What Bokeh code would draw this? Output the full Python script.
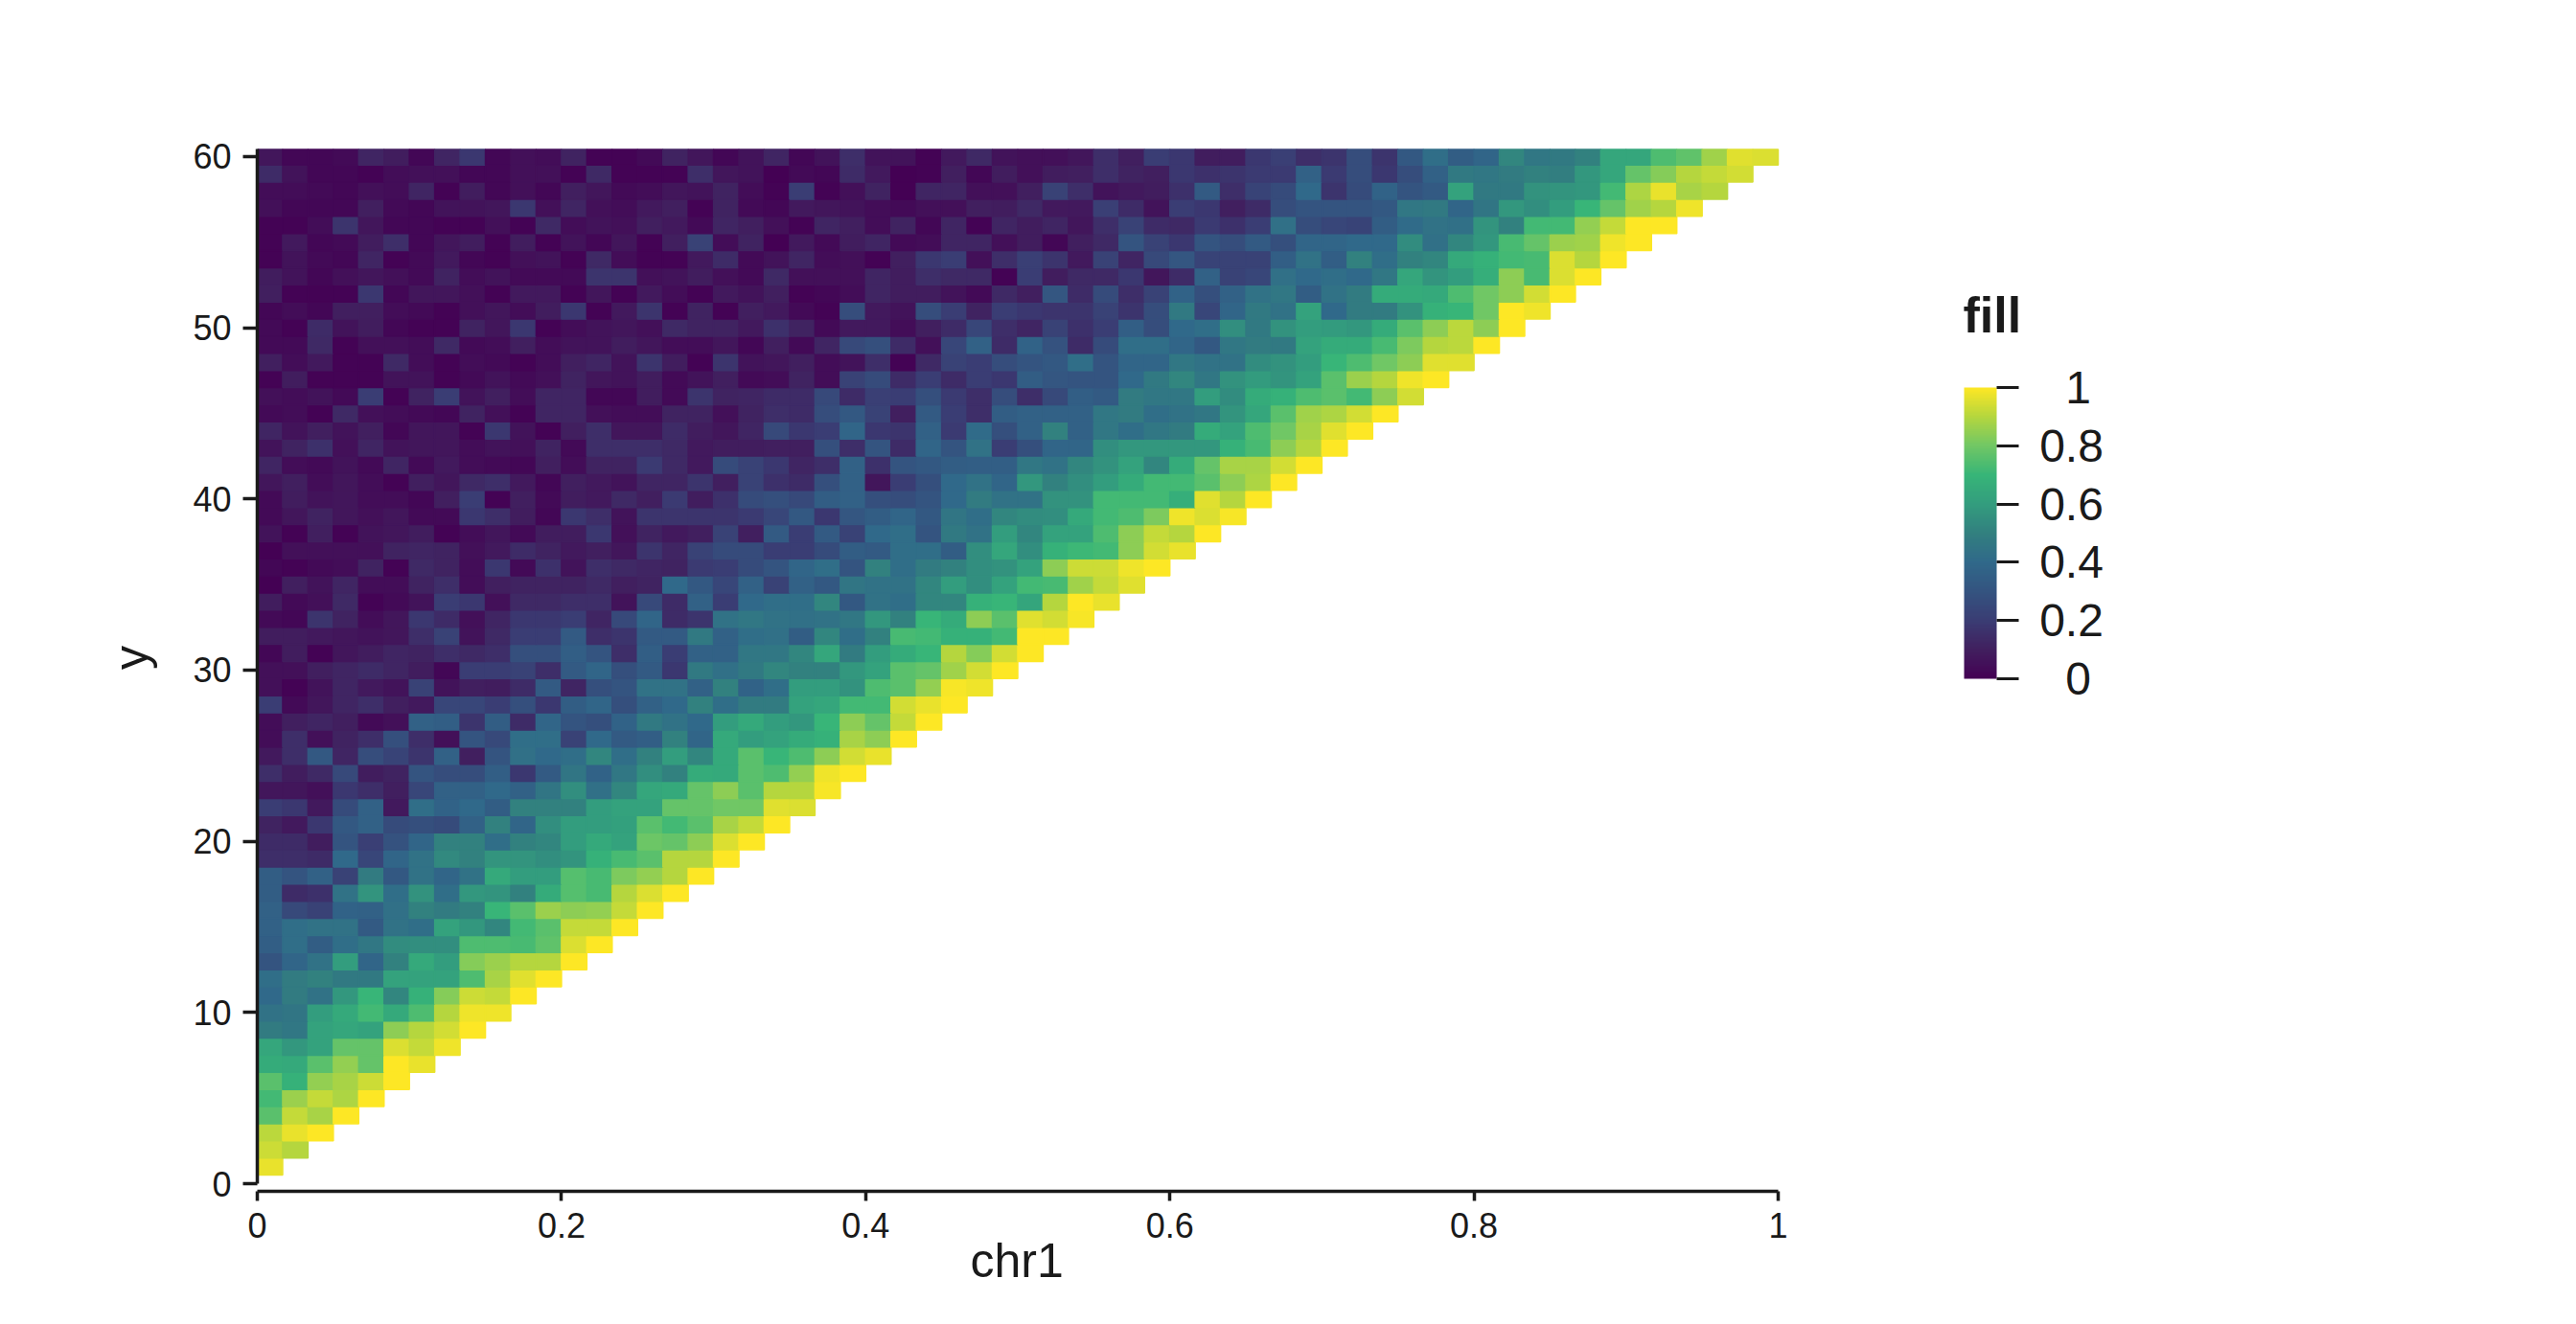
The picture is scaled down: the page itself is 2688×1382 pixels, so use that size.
from bokeh.plotting import figure
from bokeh.models import ColumnDataSource, LinearColorMapper, ColorBar, FixedTicker, Range1d, Label, Title
from bokeh.transform import transform
from bokeh.embed import file_html
from bokeh.resources import INLINE
import numpy as np

# fill values in percent, one list per row of the heatmap, from x = 0 rightwards
y1 = [97]
y2 = [93,90]
y3 = [91,97,100]
y4 = [76,92,88,100]
y5 = [72,86,92,89,100]
y6 = [76,68,85,88,93,100]
y7 = [66,65,76,85,78,100,97]
y8 = [64,58,62,78,78,95,92,98]
y9 = [48,46,62,64,62,84,90,94,100]
y10 = [44,45,60,65,72,65,74,90,98,98]
y11 = [40,48,44,58,70,52,68,83,93,92,100]
y12 = [42,48,50,47,47,62,62,62,74,88,96,100]
y13 = [30,38,44,60,38,50,65,60,83,86,90,90,100]
y14 = [35,42,34,42,46,54,55,55,74,74,73,77,95,100]
y15 = [36,42,44,44,33,44,42,62,58,52,72,76,92,92,100]
y16 = [36,25,22,37,36,43,50,48,50,70,76,86,84,85,92,100]
y17 = [34,14,16,44,57,42,56,42,58,57,50,66,75,73,90,95,100]
y18 = [34,30,36,22,48,32,44,38,44,65,60,60,75,73,82,85,90,100]
y19 = [15,15,14,40,24,38,44,53,50,57,57,55,57,68,73,76,90,90,100]
y20 = [14,14,9,30,21,29,38,50,50,42,50,52,60,65,62,79,78,84,95,100]
y21 = [11,8,18,32,36,26,28,26,36,50,38,55,60,60,61,76,72,76,88,92,100]
y22 = [20,18,8,26,36,8,42,37,40,34,50,50,50,60,62,62,78,78,80,80,96,95]
y23 = [7,7,5,18,15,10,24,36,36,40,36,45,55,43,52,64,65,78,84,76,90,90,99]
y24 = [15,9,13,25,9,11,30,27,27,35,18,33,45,37,46,55,50,66,65,76,74,85,98,100]
y25 = [8,15,32,12,27,23,17,36,10,30,43,40,42,52,42,50,60,52,65,76,70,74,84,94,97]
y26 = [4,15,5,11,15,28,15,5,30,25,42,42,22,40,33,35,50,38,65,60,62,66,68,88,84,100]
y27 = [4,10,12,10,3,5,36,35,17,34,14,38,30,28,37,47,44,40,60,65,60,58,70,84,78,92,100]
y28 = [20,3,7,12,15,10,8,24,24,20,28,18,34,38,28,36,40,50,42,48,48,62,64,72,72,94,97,100]
y29 = [5,1,6,12,8,6,22,6,10,9,14,33,12,28,30,44,44,36,50,37,42,60,60,56,74,76,85,99,98]
y30 = [5,5,10,12,14,12,9,2,20,20,22,15,33,38,28,33,18,47,43,47,52,50,50,58,62,76,78,87,94,100]
y31 = [2,9,1,7,9,12,11,15,13,15,28,28,35,30,15,35,20,36,36,46,46,52,64,48,60,66,70,90,83,94,100]
y32 = [9,9,8,7,6,7,15,22,6,13,20,20,33,15,17,33,33,47,36,42,43,34,52,42,50,73,72,68,68,72,100,100]
y33 = [3,2,17,11,4,7,18,14,5,12,18,18,20,12,25,38,14,17,44,46,44,43,44,46,58,50,70,66,84,76,96,94,99]
y34 = [9,3,5,13,1,3,6,20,18,5,13,13,15,15,6,25,14,36,20,40,42,42,52,32,44,42,52,52,68,70,63,90,100,97]
y35 = [0,10,6,12,4,4,11,15,4,10,11,11,11,13,10,11,40,32,24,36,22,36,32,45,44,44,52,60,55,62,72,73,87,92,96]
y36 = [2,1,3,4,11,1,13,11,4,18,3,16,6,15,13,12,11,19,20,26,30,38,42,30,50,42,48,50,55,56,62,84,93,93,98,100]
y37 = [0,5,5,5,5,11,12,11,5,8,14,11,8,10,7,17,12,22,26,26,20,20,26,34,33,42,42,34,55,64,55,68,71,72,84,94,97]
y38 = [6,1,10,1,6,7,9,1,4,7,3,9,9,18,5,11,8,10,22,10,33,20,33,22,40,42,30,47,44,60,52,62,62,74,84,92,90,100]
y39 = [3,7,11,7,5,7,3,3,18,15,9,2,18,15,6,17,17,17,17,19,24,32,18,31,34,38,32,45,42,52,54,55,65,72,74,82,98,95,99]
y40 = [3,9,6,7,4,4,2,10,20,1,10,3,9,8,13,10,19,9,16,26,28,25,34,36,28,27,30,40,48,44,44,56,56,72,72,72,67,96,90,100]
y41 = [7,10,4,7,4,1,10,7,13,15,8,2,10,8,6,12,12,17,10,22,16,14,28,36,7,20,28,40,44,38,58,50,55,60,66,72,72,76,84,89,100]
y42 = [12,4,3,6,3,12,3,8,4,3,2,10,4,11,11,19,13,8,26,22,18,12,15,36,16,30,32,34,35,35,46,44,52,56,62,52,66,78,88,88,94,100]
y43 = [6,11,16,5,12,6,7,7,4,6,5,11,3,15,15,15,13,8,9,9,10,10,28,15,30,14,38,30,44,20,28,38,38,55,58,58,58,58,68,73,84,90,100]
y44 = [12,6,10,6,10,2,7,7,1,18,6,1,10,15,7,7,14,9,7,12,25,18,20,38,18,17,36,19,41,28,36,50,36,46,42,46,48,66,62,74,80,88,96,100]
y45 = [3,4,1,13,5,4,3,2,11,5,1,12,12,5,4,4,11,11,5,11,15,14,27,32,22,10,33,20,15,34,36,36,36,46,48,42,44,46,57,64,76,87,89,94,100]
y46 = [5,4,6,3,20,1,11,20,6,10,4,12,12,2,2,9,3,17,11,12,14,14,25,14,21,20,28,19,15,27,15,25,35,33,48,46,46,60,54,66,68,74,76,72,84,94]
y47 = [1,9,1,1,1,6,6,1,3,6,3,5,11,7,6,9,3,6,10,3,4,11,4,22,26,14,20,14,20,18,34,31,30,30,40,47,52,46,56,59,57,62,76,86,90,98,100]
y48 = [10,4,8,1,1,13,4,1,4,3,1,4,10,12,6,17,9,1,17,6,7,10,4,6,15,1,13,22,20,27,30,32,42,30,38,38,46,44,44,54,56,60,70,74,80,84,96,96]
y49 = [3,3,13,1,5,5,4,13,3,4,10,4,6,6,9,7,4,4,7,2,10,3,12,25,28,14,5,24,36,14,37,29,14,26,42,42,38,32,46,48,47,62,66,66,73,82,90,91,100]
y50 = [3,1,14,6,9,2,1,1,11,7,18,1,4,6,7,5,13,11,11,8,16,11,3,8,8,4,10,14,24,15,12,22,16,20,35,27,40,42,55,47,56,60,59,58,66,76,84,91,84,100]
y51 = [2,4,2,10,10,4,3,1,5,7,4,9,18,1,8,17,1,11,1,10,8,3,1,27,8,6,27,20,11,20,18,17,17,22,17,27,47,24,38,47,44,62,40,48,48,56,68,70,80,100,98]
y52 = [10,1,1,1,18,2,7,7,5,1,8,8,1,7,1,8,4,1,8,6,10,1,2,4,12,9,9,6,3,13,10,31,14,26,15,22,37,28,36,44,46,34,44,48,66,66,65,74,80,84,94,100]
y53 = [9,6,2,5,7,5,3,11,4,6,3,3,3,17,17,5,6,9,5,3,13,5,5,5,12,9,15,13,13,1,20,9,13,13,18,7,14,36,22,24,43,40,42,40,46,64,57,60,67,84,73,95,100]
y54 = [1,6,3,2,12,1,3,8,2,1,5,6,1,13,4,1,1,8,14,3,6,12,4,5,1,10,18,20,5,15,21,17,8,22,12,25,31,23,22,22,35,44,35,50,42,50,52,65,68,72,73,95,90,100]
y55 = [1,8,2,3,9,15,2,7,9,1,9,1,6,2,7,1,10,22,4,11,0,8,3,9,12,3,4,12,12,5,9,2,10,13,30,22,18,30,27,33,28,38,38,40,40,54,43,52,58,73,78,86,87,98,100]
y56 = [1,1,4,17,7,2,2,1,1,5,1,13,4,6,5,10,8,3,12,10,5,1,12,10,4,11,2,12,1,12,9,12,7,15,22,14,13,19,16,20,43,27,24,23,34,41,44,43,57,50,72,72,85,92,100,100]
y57 = [5,2,2,2,10,3,2,6,6,7,18,5,12,5,4,8,10,1,11,3,2,8,7,6,4,3,5,5,10,9,13,8,8,21,14,6,20,18,10,14,27,30,30,30,32,46,47,38,45,58,55,60,70,78,87,90,98]
y58 = [4,4,3,2,5,4,12,1,9,2,5,2,10,7,3,4,7,6,11,4,1,20,1,5,11,0,12,12,5,5,10,22,15,6,8,9,16,33,15,23,26,40,17,26,37,30,33,62,47,47,56,57,58,72,89,97,88,90]
y59 = [14,6,2,2,1,4,5,5,2,2,5,5,1,13,1,1,1,15,7,6,0,3,2,14,8,0,1,10,2,9,5,9,10,15,11,10,18,16,17,19,19,36,19,27,18,27,36,47,46,48,50,49,58,64,78,83,90,92,94]
y60 = [7,2,2,3,12,9,2,12,18,2,5,4,11,1,1,3,11,7,2,6,12,2,6,15,6,6,1,8,13,6,5,5,7,15,10,20,18,9,9,18,21,15,17,27,17,32,42,34,38,52,46,47,50,64,64,74,77,87,96,95]

rows = [y1,y2,y3,y4,y5,y6,y7,y8,y9,y10,y11,y12,y13,y14,y15,y16,y17,y18,y19,y20,
        y21,y22,y23,y24,y25,y26,y27,y28,y29,y30,y31,y32,y33,y34,y35,y36,y37,y38,y39,y40,
        y41,y42,y43,y44,y45,y46,y47,y48,y49,y50,y51,y52,y53,y54,y55,y56,y57,y58,y59,y60]
x_ticks = [0, 0.2, 0.4, 0.6, 0.8, 1]
y_ticks = [0, 10, 20, 30, 40, 50, 60]
legend_ticks = [0, 0.2, 0.4, 0.6, 0.8, 1]
legend_labels = ["0", "0.2", "0.4", "0.6", "0.8", "1"]
n_bins = 60
y_top = 60.41

# colour scale
stops = ["#440154","#41205F","#3A3D74","#345480","#30698A","#32807F","#339D7E","#37B578","#70C765","#B4D63F","#FDE725"]
rgb = np.array([[int(c[i:i+2],16) for i in (1,3,5)] for c in stops], float)
t = np.linspace(0,1,256)
pal = ["#%02x%02x%02x" % tuple(int(round(np.interp(v, np.linspace(0,1,len(stops)), rgb[:,k]))) for k in range(3)) for v in t]
mapper = LinearColorMapper(palette=pal, low=0, high=1)

left, right, bottom, top, fill = [], [], [], [], []
for j, row in enumerate(rows):
    for i, v in enumerate(row):
        left.append(i/n_bins); right.append((i+1)/n_bins)
        bottom.append(j+0.5); top.append(min(j+1.5, y_top)); fill.append(v/100)
src = ColumnDataSource(dict(left=left,right=right,bottom=bottom,top=top,fill=fill))

INK = "#1a1a1a"
FONT = "Liberation Sans"
PX_X = 1587.0     # pixels per unit of x
PX_Y = 17.87      # pixels per unit of y
def dx(px): return (px-268)/PX_X
def dy(py): return (1235-py)/PX_Y

p = figure(width=2672, height=1366, output_backend="svg", toolbar_location=None,
           x_range=Range1d(0,dx(2672+0)), y_range=Range1d(dy(1243),dy(129)),
           min_border_left=268, min_border_right=0, min_border_top=129, min_border_bottom=123,
           background_fill_color="white", border_fill_color="white")
p.outline_line_color=None
p.grid.visible=False
p.quad(left="left",right="right",bottom="bottom",top="top",source=src,
       fill_color=transform("fill",mapper),line_color=transform("fill",mapper),line_width=1.5)

for ax,ticks,out in ((p.xaxis[0],x_ticks,10),(p.yaxis[0],y_ticks,15)):
    ax.ticker=FixedTicker(ticks=ticks)
    ax.major_label_overrides={0:"0",1:"1"} if ax is p.xaxis[0] else {}
    ax.axis_line_color=INK; ax.axis_line_width=3.5
    ax.major_tick_line_color=INK; ax.major_tick_line_width=3.5
    ax.major_tick_out=out; ax.major_tick_in=0
    ax.minor_tick_line_color=None
    ax.major_label_text_font=FONT; ax.major_label_text_font_size="36px"; ax.major_label_text_color=INK
    ax.major_label_standoff=12
    ax.axis_label_text_font=FONT; ax.axis_label_text_font_size="50px"; ax.axis_label_text_font_style="normal"
    ax.axis_label_text_color=INK
p.xaxis[0].bounds=(0,1)
p.yaxis[0].bounds=(0,y_top)
p.yaxis[0].axis_label="y"; p.yaxis[0].axis_label_standoff=33
p.yaxis[0].major_label_orientation="horizontal"

p.add_layout(Title(text="chr1", align="left", offset=744, standoff=-17, text_font=FONT, text_font_size="50px",
                   text_font_style="normal", text_color=INK), "below")

cb = ColorBar(color_mapper=mapper, ticker=FixedTicker(ticks=legend_ticks),
              major_label_overrides={v:"" for v in legend_ticks},
              location=(1781,535), width=34, height=304,
              major_tick_line_color=INK, major_tick_line_width=3, major_tick_in=0, major_tick_out=23,
              minor_tick_line_color=None, bar_line_color=None, border_line_color=None, background_fill_color=None,
              label_standoff=0, padding=0)
p.add_layout(cb,"center")

for v,lab in zip(legend_ticks,legend_labels):
    p.add_layout(Label(x=dx(2161 if len(lab)>1 else 2168), y=dy(708-304*v), text=lab, text_align="center", text_baseline="middle",
                       text_font=FONT, text_font_size="48px", text_color=INK))
p.add_layout(Label(x=dx(2048), y=dy(328), text="fill", text_align="left", text_baseline="alphabetic",
                   text_font=FONT, text_font_size="52px", text_font_style="bold", text_color=INK))

open("out.html","w").write(file_html(p,INLINE))
